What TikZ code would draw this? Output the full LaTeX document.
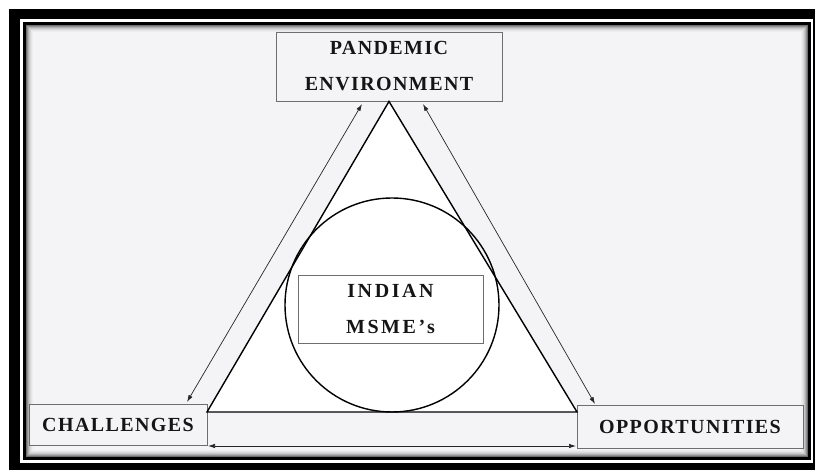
\documentclass[tikz,border=0pt]{standalone}
\usepackage{fontspec}
\setmainfont{Liberation Serif}
\newfontfamily\lblfont[LetterSpace=7]{Liberation Serif}
\newfontfamily\lblfontwide[LetterSpace=13]{Liberation Serif}
\usetikzlibrary{arrows.meta}
\definecolor{bgin}{HTML}{F4F4F6}
\definecolor{boxline}{HTML}{6E6E6E}
\definecolor{txt}{HTML}{151515}
\tikzset{
  lblbox/.style={draw=boxline, line width=0.9pt, inner sep=0pt, align=center,
    text=txt, font=\lblfont\bfseries\fontsize{20}{36}\selectfont},
  link/.style={line width=0.7pt, draw=black!85, {Latex[length=7pt,width=4.5pt]}-{Latex[length=7pt,width=4.5pt]}},
  heavy/.style={line width=1.4pt, line join=miter},
}
\begin{document}
\begin{tikzpicture}[x=1pt,y=-1pt]
\useasboundingbox (0,0) rectangle (815,470);
\fill[white] (0,0) rectangle (815,470);
% frame
\fill[black] (9,9) rectangle (815,470);
\fill[white] (20,19) rectangle (813,463);
\fill[black] (23,22) rectangle (811,460);
\fill[bgin] (26,25) rectangle (808,457);
\foreach \i/\c in {0/55,1/40,2/28,3/18,4/11,5/6,6/3}{
  \draw[line width=1pt, black!\c!bgin] (26.5+\i,25.5+\i) rectangle (807.5-\i,456.5-\i);
}
% nodes
\node[lblbox, fill=bgin, minimum width=226pt, minimum height=69pt] (pan) at (389,66.5) {PANDEMIC\\ENVIRONMENT};
\node[lblbox, fill=bgin, minimum width=178pt, minimum height=41pt] (chal) at (118,424.5) {CHALLENGES};
\node[lblbox, fill=bgin, minimum width=226pt, minimum height=43pt] (opp) at (690,426.5) {OPPORTUNITIES};
% triangle
\coordinate (apex) at (pan.south);
\coordinate (bl) at (207,412);
\coordinate (br) at (577,412);
\fill[white] (apex) -- (bl) -- (br) -- cycle;
\draw[heavy] (apex) -- (bl) -- (br) -- cycle;
\node[draw, heavy, circle, minimum size=214pt, inner sep=0pt] (circ) at (392,305) {};
\node[lblbox, font=\lblfontwide\bfseries\fontsize{20}{36}\selectfont, fill=white, minimum width=185pt, minimum height=68pt] (msme) at (390.5,309) {INDIAN\\MSME’s};
% arrows
\coordinate (lt) at (362,104);
\coordinate (lb) at (187,402);
\coordinate (rt) at (423,104);
\coordinate (rb) at (595,404);
\coordinate (bL) at (208,446);
\coordinate (bR) at (576,446);
\draw[link] (lt) -- (lb);
\draw[link] (rt) -- (rb);
\draw[link] (bL) -- (bR);
\end{tikzpicture}
\end{document}
